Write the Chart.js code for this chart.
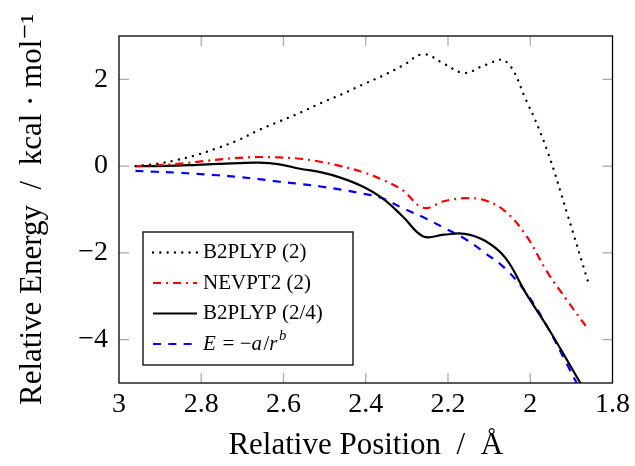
<!DOCTYPE html>
<html>
<head>
<meta charset="utf-8">
<script src="https://cdn.jsdelivr.net/npm/chart.js@4.4.0/dist/chart.umd.min.js"></script>
<style>
  html, body { margin: 0; padding: 0; background: #fff; }
  #wrap { width: 635px; height: 466px; }
</style>
</head>
<body>
<div id="wrap"><canvas id="energy-chart" width="635" height="466"></canvas></div>
<script>
// relative position (Angstrom)
const positions = [2.96, 2.91, 2.86, 2.81, 2.76, 2.71, 2.66, 2.61, 2.56, 2.51, 2.46, 2.41,
                   2.36, 2.31, 2.26, 2.21, 2.16, 2.11, 2.06, 2.01, 1.96, 1.91, 1.86];

const b2plyp2 = [0, 0.05, 0.14, 0.26, 0.42, 0.6, 0.83, 1.03, 1.23, 1.45, 1.65, 1.87,
                 2.08, 2.32, 2.58, 2.36, 2.15, 2.33, 2.42, 1.52, 0.39, -1.1, -2.65];
const nevpt2 = [0, 0.02, 0.05, 0.1, 0.15, 0.19, 0.21, 0.2, 0.17, 0.1, 0.0, -0.13,
                -0.31, -0.56, -0.96, -0.81, -0.74, -0.79, -1.05, -1.6, -2.42, -3.1, -3.75];
const b2plyp24 = [0, 0, 0.01, 0.03, 0.05, 0.07, 0.08, 0.04, -0.06, -0.14, -0.27, -0.46,
                  -0.74, -1.16, -1.62, -1.58, -1.56, -1.72, -2.12, -2.94, -3.68, -4.48, -5.3];
const fitCurve = [-0.11, -0.13, -0.15, -0.18, -0.21, -0.25, -0.3, -0.36, -0.41, -0.47, -0.54, -0.63,
                  -0.74, -0.97, -1.18, -1.42, -1.67, -2.0, -2.37, -2.92, -3.68, -4.58, -5.5];

const seriesLabels = ['B2PLYP (2)', 'NEVPT2 (2)', 'B2PLYP (2/4)', 'E = \u2212a/r^b'];
const xTicks = [3, 2.8, 2.6, 2.4, 2.2, 2, 1.8];
const yTicks = [-4, -2, 0, 2];

const serif = "'Liberation Serif', 'DejaVu Serif', serif";

function toPoints(values) {
    return positions.map((x, i) => ({ x: x, y: values[i] }));
}

function fmt(v) {
    const n = Number(v.toFixed(1));
    return n < 0 ? '\u2212' + Math.abs(n) : String(n);
}

// pgfplots style: small grey ticks inside on all four sides, black frame, legend box
const framePlugin = {
    id: 'frame',
    afterDatasetsDraw(chart) {
        const ctx = chart.ctx;
        const area = chart.chartArea;
        const xs = chart.scales.x;
        const ys = chart.scales.y;
        const len = 10;

        ctx.save();
        ctx.strokeStyle = '#a8a8a8';
        ctx.lineWidth = 1.2;
        ctx.beginPath();
        xs.ticks.forEach(t => {
            const px = xs.getPixelForValue(t.value);
            if (px <= area.left + 1 || px >= area.right - 1) return;
            ctx.moveTo(px, area.bottom); ctx.lineTo(px, area.bottom - len);
            ctx.moveTo(px, area.top); ctx.lineTo(px, area.top + len);
        });
        ys.ticks.forEach(t => {
            const py = ys.getPixelForValue(t.value);
            if (py <= area.top + 1 || py >= area.bottom - 1) return;
            ctx.moveTo(area.left, py); ctx.lineTo(area.left + len, py);
            ctx.moveTo(area.right, py); ctx.lineTo(area.right - len, py);
        });
        ctx.stroke();

        ctx.strokeStyle = '#000';
        ctx.lineWidth = 1.3;
        ctx.strokeRect(area.left, area.top, area.right - area.left, area.bottom - area.top);

        // legend
        const bx = area.left + 24, by = area.top + 196, bw = 210, bh = 133;
        ctx.fillStyle = '#fff';
        ctx.fillRect(bx, by, bw, bh);
        ctx.strokeRect(bx, by, bw, bh);

        chart.data.datasets.forEach((ds, i) => {
            const ry = by + 20.5 + i * 30.5;
            ctx.save();
            ctx.strokeStyle = ds.borderColor;
            ctx.lineWidth = ds.borderWidth;
            ctx.lineCap = ds.borderCapStyle || 'butt';
            ctx.setLineDash(ds.borderDash || []);
            ctx.beginPath();
            ctx.moveTo(bx + 10, ry);
            ctx.lineTo(bx + 54, ry);
            ctx.stroke();
            ctx.restore();

            ctx.fillStyle = '#000';
            ctx.textBaseline = 'middle';
            ctx.textAlign = 'left';
            drawLabel(ctx, ds.label, bx + 60, ry);
        });
        ctx.restore();
    }
};

// label text; the fit formula gets italic letters and a superscript
function drawLabel(ctx, text, x, y) {
    const size = 21;
    if (text.indexOf('^') < 0) {
        ctx.font = size + 'px ' + serif;
        ctx.fillText(text, x, y);
        return;
    }
    const parts = [
        { t: 'E', it: true }, { t: ' = \u2212' }, { t: 'a', it: true },
        { t: '/' }, { t: 'r', it: true }, { t: 'b', it: true, sup: true }
    ];
    let cx = x;
    parts.forEach(p => {
        const s = p.sup ? size * 0.7 : size;
        ctx.font = (p.it ? 'italic ' : '') + s + 'px ' + serif;
        ctx.fillText(p.t, cx, p.sup ? y - 8 : y);
        cx += ctx.measureText(p.t).width + (p.it && !p.sup ? 1.5 : 0);
    });
}

const ctx = document.getElementById('energy-chart').getContext('2d');
const chart = new Chart(ctx, {
    type: 'line',
    data: {
        datasets: [{
            label: seriesLabels[0],
            data: toPoints(b2plyp2),
            borderColor: '#000000',
            borderWidth: 2.4,
            borderDash: [0.01, 7.3],
            borderCapStyle: 'round'
        },
        {
            label: seriesLabels[1],
            data: toPoints(nevpt2),
            borderColor: '#ff0000',
            borderWidth: 2.2,
            borderDash: [8, 5, 2, 5]
        },
        {
            label: seriesLabels[2],
            data: toPoints(b2plyp24),
            borderColor: '#000000',
            borderWidth: 2.2
        },
        {
            label: seriesLabels[3],
            data: toPoints(fitCurve),
            borderColor: '#0000ff',
            borderWidth: 2.2,
            borderDash: [8, 7.3]
        }]
    },
    options: {
        responsive: false,
        animation: false,
        layout: { padding: { top: 36, right: 22, left: 0, bottom: 0 } },
        elements: {
            point: { radius: 0 },
            line: { tension: 0.4, fill: false }
        },
        plugins: {
            legend: { display: false },
            tooltip: { enabled: false }
        },
        scales: {
            x: {
                type: 'linear',
                reverse: true,
                min: 1.8,
                max: 3,
                afterBuildTicks: s => { s.ticks = xTicks.map(v => ({ value: v })); },
                afterFit: s => { s.height = 83; },
                grid: { display: false, drawTicks: false },
                border: { display: false },
                ticks: {
                    font: { family: serif, size: 28 },
                    color: '#000',
                    padding: 5,
                    maxRotation: 0,
                    autoSkip: false,
                    callback: v => fmt(v)
                },
                title: {
                    display: true,
                    text: 'Relative Position\u2002/\u2002\u00c5',
                    font: { family: serif, size: 31 },
                    color: '#000',
                    padding: { top: 0, bottom: 2 }
                }
            },
            y: {
                min: -5,
                max: 3,
                afterBuildTicks: s => { s.ticks = yTicks.map(v => ({ value: v })); },
                afterFit: s => { s.width = 119; },
                grid: { display: false, drawTicks: false },
                border: { display: false },
                ticks: {
                    font: { family: serif, size: 28 },
                    color: '#000',
                    padding: 11,
                    callback: v => fmt(v)
                },
                title: {
                    display: true,
                    text: 'Relative Energy\u2002/\u2002kcal \u00b7 mol\u207b\u00b9',
                    font: { family: serif, size: 31 },
                    color: '#000',
                    padding: { top: 14, bottom: 0 }
                }
            }
        }
    },
    plugins: [framePlugin]
});
</script>
</body>
</html>
